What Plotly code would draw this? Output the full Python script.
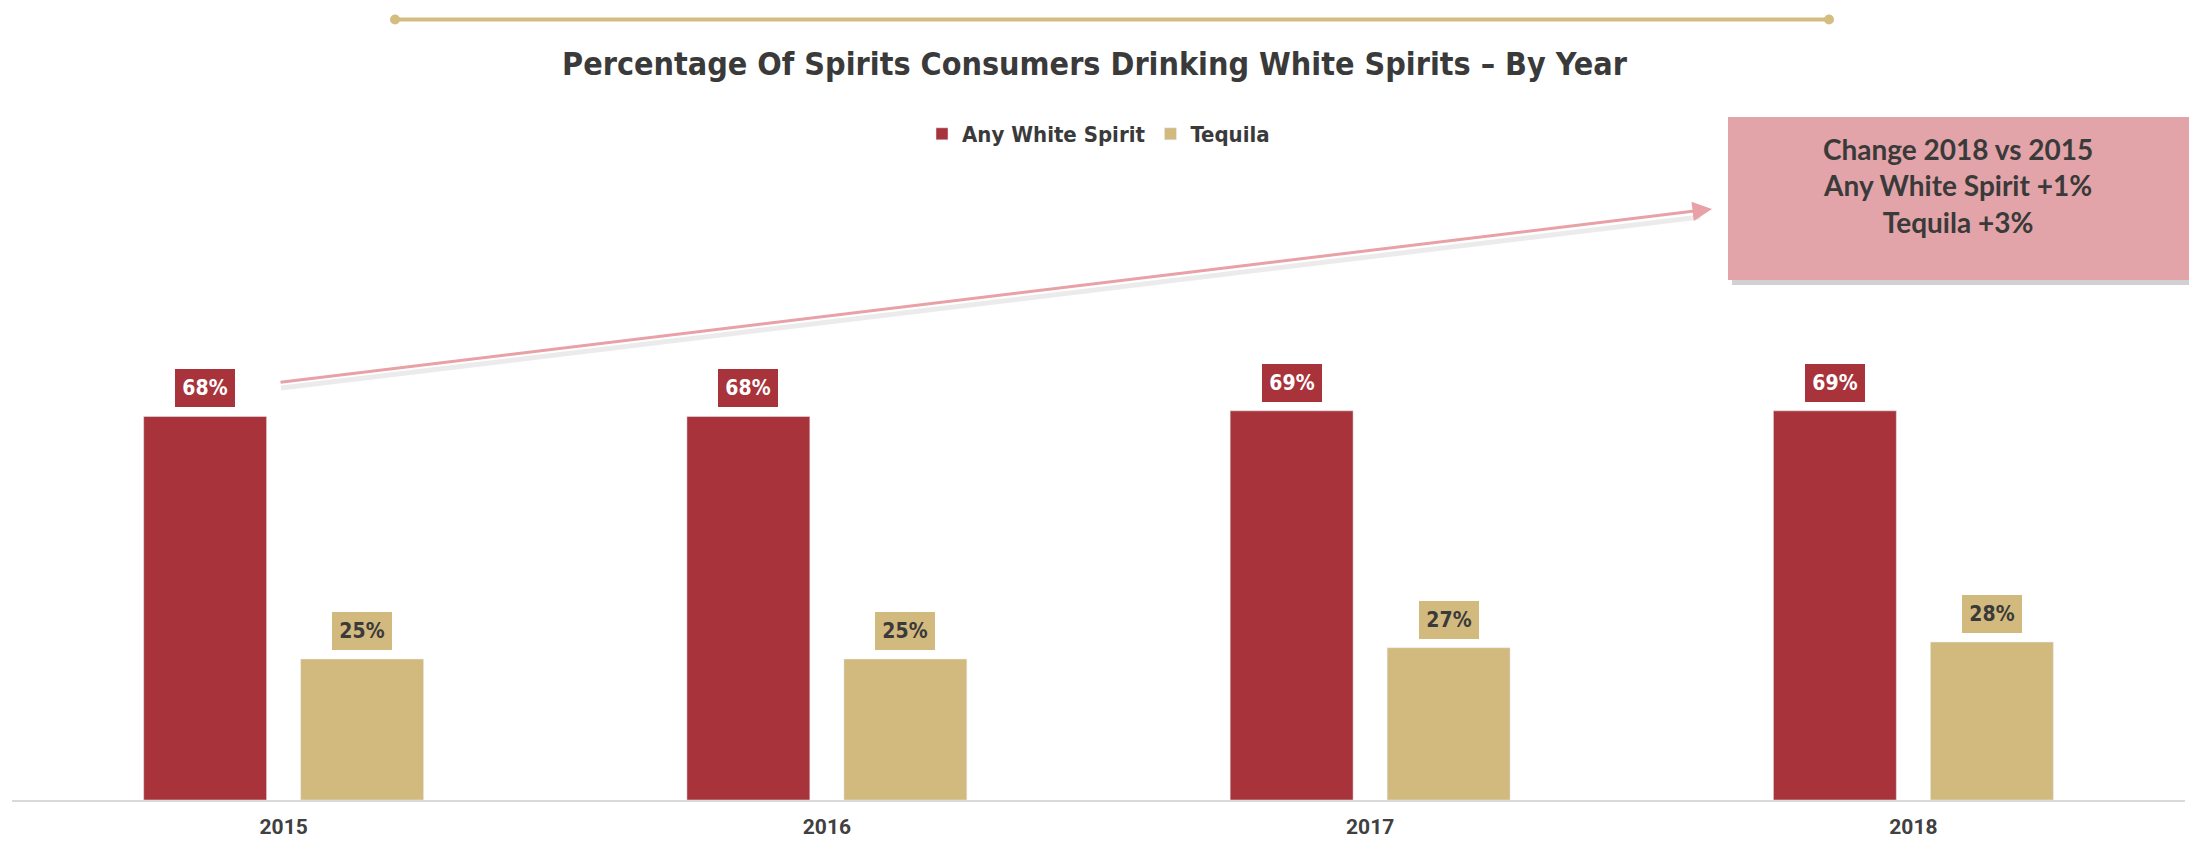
import plotly.graph_objects as go

# ---- data ----
years = ["2015", "2016", "2017", "2018"]
any_white = [68, 68, 69, 69]
tequila = [25, 25, 27, 28]
series_names = ["Any White Spirit", "Tequila"]
title_text = "Percentage Of Spirits Consumers Drinking White Spirits \u2013 By Year"
callout_lines = ["Change 2018 vs 2015", "Any White Spirit +1%", "Tequila +3%"]

# ---- style ----
RED = "#A8333A"
TAN = "#D2B97E"
PINK = "#E2A4A8"
ARROW = "#E8A1A6"
GOLD = "#D5BD82"
DARK = "#3A3A3A"
COND = "DejaVu Sans Condensed, Liberation Sans Narrow, sans-serif"

W, H = 2189, 842
ml, mr, mt, mb = 12, 4, 236, 42
pw, ph = W - ml - mr, H - mt - mb
bargap, bargroupgap = 0.422, 0.217
cat_w = pw / len(years)
offset = (1 - bargap) * cat_w / 4


def pxp(x):
    return (x - ml) / pw


def pyp(y):
    return (H - mb - y) / ph


fig = go.Figure()
fig.add_bar(x=years, y=any_white, name=series_names[0], marker_color=RED)
fig.add_bar(x=years, y=tequila, name=series_names[1], marker_color=TAN)

annotations = []
for vals, sign, bg, fc in [(any_white, -1, RED, "white"), (tequila, 1, TAN, DARK)]:
    for i, v in enumerate(vals):
        annotations.append(dict(
            x=i, y=v, xref="x", yref="y", text=f"<b>{v}%</b>", showarrow=False,
            xshift=sign * offset, yshift=9, yanchor="bottom", xanchor="center",
            bgcolor=bg, width=60, height=38, borderpad=0, borderwidth=0,
            font=dict(family=COND, size=21, color=fc)))

# arrow
annotations.append(dict(
    x=pxp(1712), y=pyp(209), xref="paper", yref="paper", text="", showarrow=True,
    ax=279 - 1712, ay=382.5 - 209, arrowhead=2, arrowsize=1.3, arrowwidth=3,
    arrowcolor=ARROW, standoff=0))

# callout text
annotations.append(dict(
    x=pxp(1958), y=pyp(186), xref="paper", yref="paper",
    text="<br>".join(f"<b>{l}</b>" for l in callout_lines), showarrow=False,
    align="center", xanchor="center", yanchor="middle",
    font=dict(family="Lato, Open Sans, sans-serif", size=28, color=DARK, weight="bold")))

shapes = [
    # arrow shadow
    dict(type="line", xref="paper", yref="paper", x0=pxp(281), y0=pyp(388), x1=pxp(1700), y1=pyp(217),
         line=dict(color="rgba(0,0,0,0.08)", width=5), layer="below"),
    # callout shadow
    dict(type="rect", xref="paper", yref="paper", x0=pxp(1732), x1=pxp(2195), y0=pyp(121), y1=pyp(285),
         fillcolor="rgba(0,0,0,0.18)", line=dict(width=0)),
    dict(type="rect", xref="paper", yref="paper", x0=pxp(1728), x1=pxp(2192), y0=pyp(117), y1=pyp(280),
         fillcolor=PINK, line=dict(width=0)),
    # decorative top line
    dict(type="line", xref="paper", yref="paper", x0=pxp(395), x1=pxp(1829), y0=pyp(19.5), y1=pyp(19.5),
         line=dict(color=GOLD, width=4)),
    dict(type="circle", xref="paper", yref="paper", x0=pxp(390), x1=pxp(400), y0=pyp(14.5), y1=pyp(24.5),
         fillcolor=GOLD, line=dict(width=0)),
    dict(type="circle", xref="paper", yref="paper", x0=pxp(1824), x1=pxp(1834), y0=pyp(14.5), y1=pyp(24.5),
         fillcolor=GOLD, line=dict(width=0)),
]

fig.update_layout(
    width=W, height=H, margin=dict(l=ml, r=mr, t=mt, b=mb),
    paper_bgcolor="white", plot_bgcolor="white",
    barmode="group", bargap=bargap, bargroupgap=bargroupgap,
    title=dict(text=title_text, x=0.5, xanchor="center", y=1 - 64 / H, yanchor="middle",
               font=dict(family=COND, size=32, color=DARK, weight="bold")),
    legend=dict(orientation="h", x=0.5, xanchor="center", y=pyp(134), yanchor="middle",
                font=dict(family=COND, size=22, color=DARK, weight="bold"), itemclick=False),
    xaxis=dict(type="category", range=[-0.5, len(years) - 0.5], autorange=False,
               showline=True, linecolor="#D9D9D9", linewidth=2, showgrid=False, ticks="",
               ticklabelstandoff=7,
               tickfont=dict(family="Roboto, sans-serif", size=21, color="#404040", weight="bold")),
    yaxis=dict(range=[0, 100], autorange=False, visible=False, showgrid=False),
    annotations=annotations, shapes=shapes, showlegend=True,
)

fig.write_html("out.html")
